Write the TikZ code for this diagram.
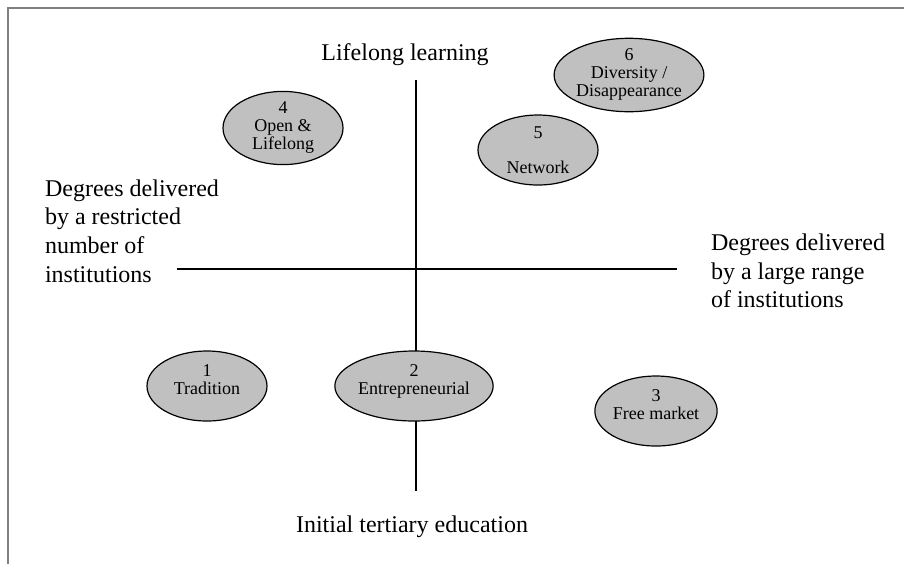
\documentclass[tikz,border=0pt]{standalone}
\usepackage{fontspec}
\setmainfont{Liberation Serif}
\usetikzlibrary{shapes.geometric,positioning}
\definecolor{ovalgray}{RGB}{192,192,192}
\definecolor{framegray}{RGB}{128,128,128}

\begin{document}
\begin{tikzpicture}[x=0.5pt,y=-0.5pt,
    scenario/.style={ellipse,draw,line width=0.6pt,fill=ovalgray,
        minimum width=60pt,minimum height=35pt,inner sep=0pt,align=center,
        font=\fontsize{9}{9}\selectfont},
    axislabel/.style={font=\fontsize{12}{14.35}\selectfont,align=left}]
\useasboundingbox (0,0) rectangle (904,564);
% frame
\draw[framegray,line width=1pt] (8,564) -- (8,8) -- (904,8);

% axes
\coordinate (west) at (177,269);
\coordinate (east) at (677,269);
\coordinate (north) at (416,80);
\coordinate (south) at (416,491);
\draw[line width=0.8pt] (west) -- (east);
\draw[line width=0.8pt] (north) -- (south);

% axis labels
\node[axislabel] (lifelong) at (405,55) {Lifelong learning};
\node[axislabel] (initial) at (412,527) {Initial tertiary education};
\node[axislabel,anchor=west] (restricted) at (38,231)
    {Degrees delivered\\by a restricted\\number of\\institutions};
\node[axislabel,anchor=west] (large) at (704,271)
    {Degrees delivered\\by a large range\\of institutions};

% scenarios
\node[scenario,text depth=6pt] (s1) at (207,386) {1\\Tradition};
\node[scenario,text depth=6pt] (s2) at (414,386) {2\\Entrepreneurial};
\node[scenario,text depth=6pt] (s3) at (656,411) {3\\Free market};
\node[scenario] (s4) at (283,128) {4\\Open \&\\Lifelong};
\node[scenario] (s5) at (538,150) {5\\[8.5pt]Network};
\node[scenario,text depth=2pt] (s6) at (629,75) {6\\Diversity /\\Disappearance};

\end{tikzpicture}
\end{document}
